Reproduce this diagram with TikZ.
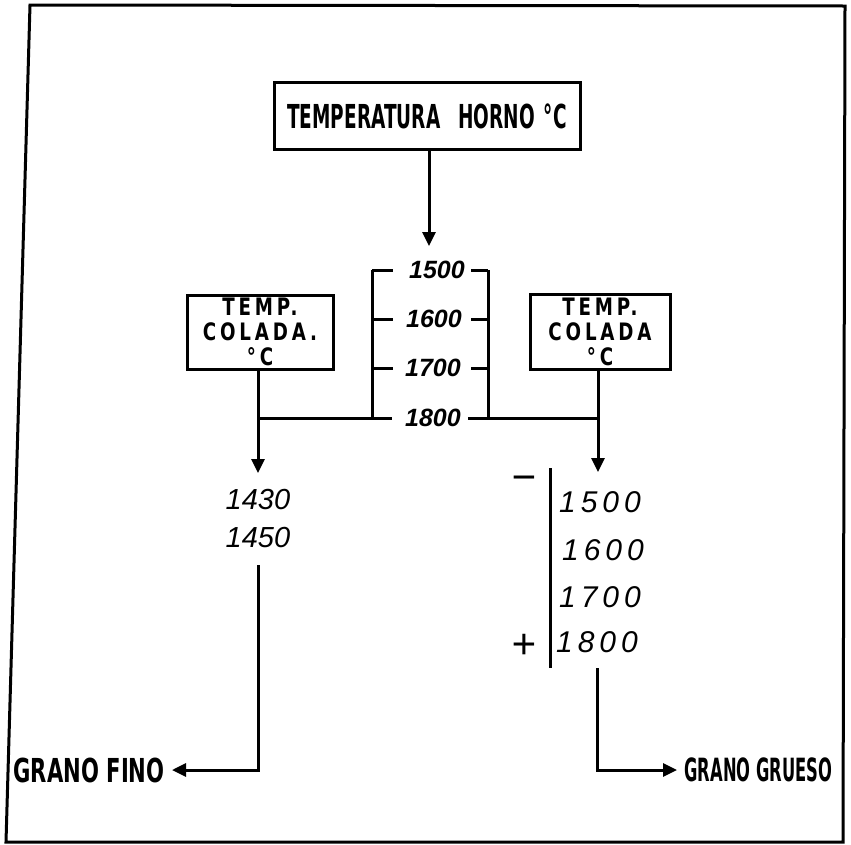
\documentclass[tikz,border=0pt]{standalone}
\usepackage{fontspec}
\usepackage{tikz}
\usetikzlibrary{arrows.meta, positioning}
\newfontfamily\blockfont{DejaVu Sans Bold}[FakeStretch=0.56]
\newfontfamily\finofont{DejaVu Sans Bold}[FakeStretch=0.64]
\newfontfamily\gruesofont{DejaVu Sans Bold}[FakeStretch=0.51]
\newfontfamily\boxfont{DejaVu Sans Bold}[FakeStretch=0.76, LetterSpace=16]
\newfontfamily\handfont{Liberation Sans Italic}
\newfontfamily\handboldfont{Liberation Sans Bold Italic}

\begin{document}
\begin{tikzpicture}[x=1pt, y=-1pt, line width=3pt,
  every node/.style={inner sep=0pt},
  hbox/.style={draw, line width=3pt},
  cbox/.style={hbox, align=center, font=\boxfont\fontsize{24}{25}\selectfont},
  tick/.style={font=\handboldfont\fontsize{25}{26}\selectfont},
  num/.style={font=\handfont\fontsize{30}{32}\selectfont},
  sign/.style={font=\handfont\fontsize{42}{42}\selectfont},
  flow/.style={-{Triangle[length=14pt, width=13pt]}}]

\useasboundingbox (0,0) rectangle (851,844);

% Frame
\draw (30,5) -- (845,6) -- (843,842) -- (6,842) -- cycle;

% Furnace temperature
\node[hbox, minimum width=306pt, minimum height=67pt] (horno) at (427,116)
  {\blockfont\fontsize{33}{34}\selectfont TEMPERATURA\hspace{18pt}HORNO\hspace{9pt}°C};
\coordinate (tipH) at (429,246);
\draw[flow] (horno.south -| tipH) -- (tipH);

% Ladder of furnace values
\node[tick] (h1500) at (437,270) {1500};
\node[tick] (h1600) at (434,319) {1600};
\node[tick] (h1700) at (433,368) {1700};
\node[tick] (h1800) at (433,418) {1800};
\coordinate (ladL) at (372,270);
\coordinate (ladR) at (488,270);
\draw (ladL) -- (ladL |- h1800);
\draw (ladR) -- (ladR |- h1800);
\foreach \n in {1500,1600,1700} {
  \draw (ladL |- h\n) -- ++(21,0);
  \draw (ladR |- h\n) -- ++(-17,0);
}

% Pouring temperature boxes
\node[cbox, minimum width=146pt, minimum height=74pt] (colL) at (260,332)
  {TEMP.\\COLADA.\\°C};
\node[cbox, minimum width=140pt, minimum height=75pt] (colR) at (600,332)
  {TEMP.\\COLADA\\°C};

% Joining line at 1800
\coordinate (tipL) at (258,473);
\coordinate (tipR) at (598,472);
\draw (tipL |- h1800) -- ([xshift=-12pt]h1800.west);
\draw ([xshift=6pt]h1800.east) -- (tipR |- h1800);
\draw[flow] (colL.south -| tipL) -- (tipL);
\draw[flow] (colR.south -| tipR) -- (tipR);

% Fine grain side
\node[num, font=\handfont\fontsize{29}{30}\selectfont] (f1430) at (258,500) {1430};
\node[num, font=\handfont\fontsize{29}{30}\selectfont] (f1450) at (258,538) {1450};
\coordinate (finoTop) at (258,565);
\node[anchor=east, font=\finofont\fontsize{33}{34}\selectfont] (fino) at (166,770) {GRANO FINO};
\draw[flow] (finoTop) |- ([xshift=6pt]fino.east);

% Coarse grain side
\node[num] (g1500) at (600,502) {1\,5\,0\,0};
\node[num] (g1600) at (603,550) {1\,6\,0\,0};
\node[num] (g1700) at (600,597) {1\,7\,0\,0};
\node[num] (g1800) at (597,642) {1\,8\,0\,0};
\coordinate (barT) at (550,468);
\coordinate (barB) at (550,668);
\draw (barT) -- (barB);
\node[sign] (menos) at (524,484) {−};
\node[sign] (mas) at (524,646) {+};
\coordinate (gruesoTop) at (597,668);
\node[anchor=west, font=\gruesofont\fontsize{32}{33}\selectfont] (grueso) at (683,770) {GRANO GRUESO};
\draw[flow] (gruesoTop) |- ([xshift=-6pt]grueso.west);

\end{tikzpicture}
\end{document}
